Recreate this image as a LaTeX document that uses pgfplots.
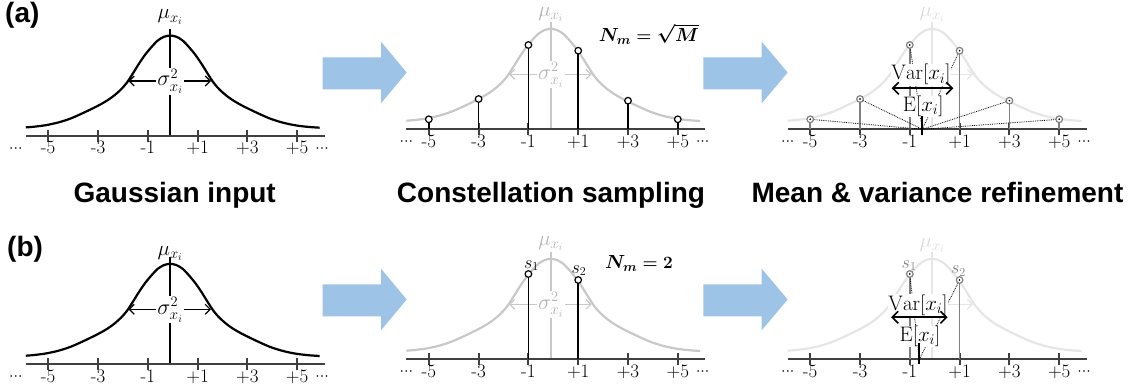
\documentclass[border=0pt]{standalone}
\usepackage{fontspec}
\usepackage{amsmath}
\usepackage{bm}
\usepackage{pgfplots}
\usepackage{pgfplotstable}
\pgfplotsset{compat=1.18}
\usetikzlibrary{arrows.meta}
\newfontfamily\titlefont{Liberation Sans}
% scalable math fonts
\DeclareFontShape{OML}{cmm}{m}{it}{<->cmmi12}{}
\DeclareFontShape{OML}{cmm}{b}{it}{<->cmmib10}{}
\DeclareFontShape{OMS}{cmsy}{m}{n}{<->cmsy10}{}
\DeclareFontShape{OMS}{cmsy}{b}{n}{<->cmbsy10}{}
\DeclareFontShape{OMX}{cmex}{m}{n}{<->cmex10}{}

\definecolor{axcol}{HTML}{404040}
\definecolor{gA}{HTML}{C8C8C8}
\definecolor{gAt}{HTML}{B4B4B4}
\definecolor{gB}{HTML}{E6E6E6}
\definecolor{gBt}{HTML}{DADADA}
\definecolor{stemgray}{HTML}{808080}
\definecolor{arrowblue}{HTML}{9DC3E6}

\newcommand\tickfont{\fontsize{19}{21}\selectfont}
\newcommand\lblfont{\fontsize{22}{25}\selectfont}
\newcommand\mufont{\fontsize{21}{23}\selectfont}
\newcommand\sfont{\fontsize{18}{20}\selectfont}
\newcommand\bigfont{\fontsize{21}{24}\selectfont}
\newcommand\ttl{\titlefont\bfseries\fontsize{28}{32}\selectfont}
\newcommand\dotsfont{\fontsize{16}{18}\selectfont}

% Gaussian-like curve (x in units, h in px above axis)
\pgfplotstableread{
x h
-5.9 8.6
-5.6 9.2
-5.1 10.8
-4.6 13.5
-4.1 17.5
-3.6 23.0
-3.1 29.0
-2.85 32.3
-2.6 36.0
-2.35 40.5
-2.1 46.0
-1.85 53.0
-1.6 62.5
-1.35 72.5
-1.1 81.5
-0.85 89.0
-0.6 95.5
-0.35 99.2
-0.1 100.5
0.15 99.2
0.4 95.5
0.65 89.0
0.9 81.5
1.15 72.5
1.4 62.5
1.65 53.0
1.9 46.0
2.15 40.5
2.4 36.0
2.65 32.3
2.9 29.0
3.4 23.0
3.9 17.5
4.4 13.5
4.9 10.8
5.4 9.2
5.9 8.3
}\gauss

\pgfplotstableread{
x h
-5 10
-3 30.3
-1 84.3
1 78.6
3 28.6
5 10
}\samplesM

\pgfplotstableread{
x h
-1 85.3
1 79.3
}\samplesTwo

\pgfplotsset{panel/.style={x=24.9pt, y=1pt, xmin=-7, xmax=7, ymin=-25, ymax=130,
  hide axis, clip=false, anchor=origin, enlargelimits=false}}

\newcommand\threedots{$\mathord{\cdot}\mathord{\cdot}\mathord{\cdot}$}

\newcommand\baseaxis[1]{%
  \draw[axcol, line width=2.2pt] (axis cs:-5.9,0) -- (axis cs:6.1,0);
  \draw[axcol, line width=2pt] (axis cs:-5,-6) -- (axis cs:-5,6)
     (axis cs:-3,-6) -- (axis cs:-3,6) (axis cs:-1,-6) -- (axis cs:-1,6)
     (axis cs:1,-6) -- (axis cs:1,6) (axis cs:3,-6) -- (axis cs:3,6)
     (axis cs:5,-6) -- (axis cs:5,6);
  \node[anchor=base, font=\tickfont, inner sep=0] at (axis cs:-5,-18) {-5};
  \node[anchor=base, font=\tickfont, inner sep=0] at (axis cs:-3,-18) {-3};
  \node[anchor=base, font=\tickfont, inner sep=0] at (axis cs:-1,-18) {-1};
  \node[anchor=base, font=\tickfont, inner sep=0] at (axis cs:1,-18) {+1};
  \node[anchor=base, font=\tickfont, inner sep=0] at (axis cs:3,-18) {+3};
  \node[anchor=base, font=\tickfont, inner sep=0] at (axis cs:5,-18) {+5};
  \node[anchor=base, font=\dotsfont, inner sep=0] at (axis cs:#1,-16.5) {\threedots};
  \node[anchor=base, font=\dotsfont, inner sep=0] at (axis cs:6.0,-16.5) {\threedots};
}

\tikzset{barb/.style={{Straight Barb[length=5pt,width=10pt]}-{Straight Barb[length=5pt,width=10pt]}},
  bigbarb/.style={{Straight Barb[length=6pt,width=12pt]}-{Straight Barb[length=6pt,width=12pt]}}}

\begin{document}
\begin{tikzpicture}
\useasboundingbox (0pt,0pt) rectangle (1136pt,-390pt);

\begin{scope}[x=1pt,y=-1pt]
  \foreach \dy in {0,227} {
    \begin{scope}[yshift=-\dy pt]
    \fill[arrowblue] (322.7,57.3) -- (381,57.3) -- (381,41.7) -- (406.7,72.5) -- (381,103.3) -- (381,89.3) -- (322.7,89.3) -- cycle;
    \fill[arrowblue] (703.3,57.3) -- (761.7,57.3) -- (761.7,41.7) -- (787.7,72.5) -- (761.7,103.3) -- (761.7,89.3) -- (703.3,89.3) -- cycle;
    \end{scope}
  }
  \node[font=\ttl, anchor=base] at (174.7,203) {Gaussian input};
  \node[font=\ttl, anchor=base] at (551,203) {Constellation sampling};
  \node[font=\ttl, anchor=base] at (937.5,203) {Mean \& variance refinement};
  \node[font=\ttl, anchor=base west, inner sep=0] at (5,23) {(a)};
  \node[font=\ttl, anchor=base west, inner sep=0] at (7,257) {(b)};
\end{scope}

% ---------- (a) Gaussian input
\begin{axis}[panel, at={(172.7pt,-136pt)}]
  \addplot[black, line width=2.2pt, smooth] table[x=x,y=h]{\gauss};
  \addplot[black, line width=1.5pt] coordinates {(-0.1,0) (-0.1,107)};
  \draw[black, line width=1.2pt, barb] (axis cs:-1.78,55) -- (axis cs:1.54,55);
  \node[fill=white, inner sep=1pt, anchor=base, font=\lblfont] at (axis cs:-0.1,50) {$\sigma^2_{x_i}$};
  \node[anchor=base, font=\mufont, inner sep=0] at (axis cs:-0.1,117) {$\mu_{x_i}$};
  \baseaxis{-6.3}
\end{axis}

% ---------- (a) Constellation sampling
\begin{axis}[panel, at={(553.3pt,-129.3pt)}]
  \addplot[gA, line width=2.2pt, smooth] table[x=x,y=h]{\gauss};
  \addplot[gA, line width=1.5pt] coordinates {(-0.1,0) (-0.1,107)};
  \draw[gA, line width=1.2pt, barb] (axis cs:-1.78,55) -- (axis cs:1.54,55);
  \node[fill=white, text=gAt, inner sep=1pt, anchor=base, font=\lblfont] at (axis cs:-0.1,50) {$\sigma^2_{x_i}$};
  \node[anchor=base, text=gAt, font=\mufont, inner sep=0] at (axis cs:-0.1,113) {$\mu_{x_i}$};
  \baseaxis{-5.9}
  \addplot[ycomb, black, line width=1.5pt, mark=*, mark size=3.3pt,
    mark options={draw=black, fill=white, line width=1.2pt}] table[x=x,y=h]{\samplesM};
  \node[font={\fontsize{19}{22}\selectfont}] at (axis cs:3.84,95.3) {$\bm{N_m = \sqrt{M}}$};
\end{axis}

% ---------- (a) Mean & variance refinement
\begin{axis}[panel, at={(934.7pt,-129.3pt)}]
  \addplot[gB, line width=2.2pt, smooth] table[x=x,y=h]{\gauss};
  \addplot[gB, line width=1.5pt] coordinates {(-0.1,0) (-0.1,107)};
  \draw[gB, line width=1.2pt, barb] (axis cs:-1.78,55) -- (axis cs:1.54,55);
  \node[anchor=base, text=gBt, font=\mufont, inner sep=0] at (axis cs:-0.1,113) {$\mu_{x_i}$};
  \baseaxis{-5.9}
  \addplot[ycomb, stemgray, line width=1.5pt, mark=*, mark size=3.3pt,
    mark options={draw=stemgray, fill=white, line width=1.2pt}] table[x=x,y=h]{\samplesM};
  \addplot[only marks, mark=*, mark size=0.6pt, black] table[x=x,y=h]{\samplesM};
  \addplot[black, densely dotted, line width=0.8pt] coordinates {(-5,10) (-0.5,0)};
  \addplot[black, densely dotted, line width=0.8pt] coordinates {(-3,30.3) (-0.5,0)};
  \addplot[black, densely dotted, line width=0.8pt] coordinates {(-1,84.3) (-0.5,0)};
  \addplot[black, densely dotted, line width=0.8pt] coordinates {(1,78.6) (-0.5,0)};
  \addplot[black, densely dotted, line width=0.8pt] coordinates {(3,28.6) (-0.5,0)};
  \addplot[black, densely dotted, line width=0.8pt] coordinates {(5,10) (-0.5,0)};
  \node[fill=white, inner sep=0.5pt, anchor=base, font=\bigfont] at (axis cs:-0.55,49.3) {$\mathrm{Var}[x_i]$};
  \node[fill=white, inner sep=0.5pt, anchor=base, font=\bigfont] at (axis cs:-0.46,17.6) {$\mathrm{E}[x_i]$};
  \draw[black, line width=1.6pt, bigbarb] (axis cs:-1.73,41) -- (axis cs:0.75,41);
  \addplot[black, line width=2pt] coordinates {(-0.5,-6) (-0.5,13)};
\end{axis}

% ---------- (b) Gaussian input
\begin{axis}[panel, at={(172.7pt,-364.3pt)}]
  \addplot[black, line width=2.2pt, smooth] table[x=x,y=h]{\gauss};
  \addplot[black, line width=1.5pt] coordinates {(-0.1,0) (-0.1,107)};
  \draw[black, line width=1.2pt, barb] (axis cs:-1.78,55) -- (axis cs:1.54,55);
  \node[fill=white, inner sep=1pt, anchor=base, font=\lblfont] at (axis cs:-0.1,50) {$\sigma^2_{x_i}$};
  \node[anchor=base, font=\mufont, inner sep=0] at (axis cs:-0.1,109) {$\mu_{x_i}$};
  \baseaxis{-6.3}
\end{axis}

% ---------- (b) Constellation sampling
\begin{axis}[panel, at={(553.3pt,-359.3pt)}]
  \addplot[gA, line width=2.2pt, smooth] table[x=x,y=h]{\gauss};
  \addplot[gA, line width=1.5pt] coordinates {(-0.1,0) (-0.1,107)};
  \draw[gA, line width=1.2pt, barb] (axis cs:-1.78,55) -- (axis cs:1.54,55);
  \node[fill=white, text=gAt, inner sep=1pt, anchor=base, font=\lblfont] at (axis cs:-0.1,50) {$\sigma^2_{x_i}$};
  \node[anchor=base, text=gAt, font=\mufont, inner sep=0] at (axis cs:-0.1,114) {$\mu_{x_i}$};
  \baseaxis{-5.9}
  \addplot[ycomb, black, line width=1.5pt, mark=*, mark size=3.3pt,
    mark options={draw=black, fill=white, line width=1.2pt}] table[x=x,y=h]{\samplesTwo};
  \node[anchor=base, font=\sfont, inner sep=0] at (axis cs:-0.88,91) {$s_1$};
  \node[anchor=base, font=\sfont, inner sep=0] at (axis cs:1.03,86) {$s_2$};
  \node[font={\fontsize{19}{22}\selectfont}] at (axis cs:3.44,96) {$\bm{N_m = 2}$};
\end{axis}

% ---------- (b) Mean & variance refinement
\begin{axis}[panel, at={(934.7pt,-359.3pt)}]
  \addplot[gB, line width=2.2pt, smooth] table[x=x,y=h]{\gauss};
  \addplot[gB, line width=1.5pt] coordinates {(-0.1,0) (-0.1,107)};
  \draw[gB, line width=1.2pt, barb] (axis cs:-1.78,55) -- (axis cs:1.54,55);
  \node[anchor=base, text=gBt, font=\mufont, inner sep=0] at (axis cs:-0.1,112) {$\mu_{x_i}$};
  \baseaxis{-5.9}
  \addplot[ycomb, stemgray, line width=1.5pt, mark=*, mark size=3.3pt,
    mark options={draw=stemgray, fill=white, line width=1.2pt}] table[x=x,y=h]{\samplesTwo};
  \addplot[only marks, mark=*, mark size=0.6pt, black] table[x=x,y=h]{\samplesTwo};
  \node[anchor=base, text=stemgray, font=\sfont, inner sep=0] at (axis cs:-1.03,91) {$s_1$};
  \node[anchor=base, text=stemgray, font=\sfont, inner sep=0] at (axis cs:0.95,85.3) {$s_2$};
  \addplot[black, densely dotted, line width=0.8pt] coordinates {(-1,85.3) (-0.62,0)};
  \addplot[black, densely dotted, line width=0.8pt] coordinates {(1,79.3) (-0.62,0)};
  \node[fill=white, inner sep=0.5pt, anchor=base, font=\bigfont] at (axis cs:-0.67,49.3) {$\mathrm{Var}[x_i]$};
  \node[fill=white, inner sep=0.5pt, anchor=base, font=\bigfont] at (axis cs:-0.59,17.6) {$\mathrm{E}[x_i]$};
  \draw[black, line width=1.6pt, bigbarb] (axis cs:-1.75,42) -- (axis cs:0.52,42);
  \addplot[black, line width=2pt] coordinates {(-0.62,-5) (-0.62,16)};
\end{axis}
\end{tikzpicture}
\end{document}
